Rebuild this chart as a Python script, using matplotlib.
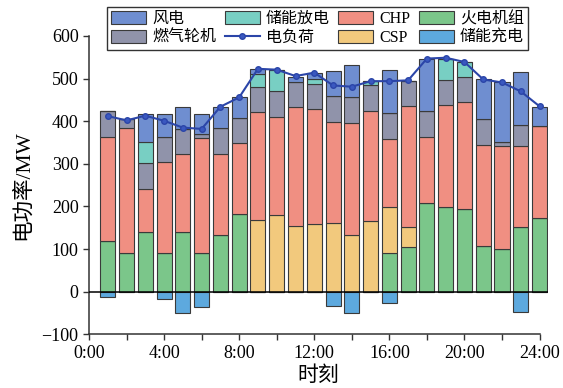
import numpy as np
import matplotlib
matplotlib.use('Agg')
import matplotlib.pyplot as plt

plt.rcParams['font.family'] = ['Liberation Serif', 'Noto Sans CJK SC']
plt.rcParams['font.size'] = 11

hours = np.arange(1, 25)
# stacked output, MW (bottom to top)
thermal = [120, 90, 140, 90, 140, 90, 132, 182, 0, 0, 0, 0,
           0, 0, 0, 90, 106, 207, 199, 193, 108, 101, 151, 174]
csp = [0, 0, 0, 0, 0, 0, 0, 0, 168, 180, 154, 159,
       161, 134, 165, 109, 45, 0, 0, 0, 0, 0, 0, 0]
chp = [242, 293, 101, 214, 183, 271, 191, 166, 253, 230, 279, 269,
       238, 263, 259, 160, 285, 156, 238, 252, 237, 240, 192, 215]
gas = [61, 22, 62, 59, 59, 9, 60, 60, 60, 60, 59, 60,
       60, 61, 60, 60, 59, 60, 60, 59, 60, 11, 49, 0]
discharge = [0, 0, 49, 0, 0, 0, 0, 0, 31, 51, 0, 10,
             0, 0, 11, 0, 0, 0, 48, 36, 0, 0, 0, 0]
wind = [0, 0, 64, 55, 52, 48, 51, 48, 10, 0, 12, 15,
        59, 73, 0, 101, 0, 123, 0, 0, 93, 139, 124, 45]
charge = [-12, 0, 0, -17, -49, -37, 0, 0, 0, 0, 0, 0,
          -34, -49, 0, -27, 0, 0, 0, 0, 0, 0, -47, 0]
load = [412, 402, 413, 401, 385, 382, 434, 456, 523, 521, 506, 514,
        484, 481, 494, 494, 496, 547, 549, 539, 498, 491, 470, 435]

series = [
    ('火电机组', thermal, '#7BC68A'),
    ('CSP', csp, '#F2C97D'),
    ('CHP', chp, '#F08F82'),
    ('燃气轮机', gas, '#9093AA'),
    ('储能放电', discharge, '#78CFC3'),
    ('风电', wind, '#6F8ED0'),
]

fig = plt.figure(figsize=(5.63, 3.88), dpi=100)
ax = fig.add_axes([89 / 563, 1 - 334.3 / 388, 459 / 563, 298.3 / 388])

handles = {}
bottom = np.zeros(24)
for name, vals, col in series:
    vals = np.array(vals, dtype=float)
    b = ax.bar(hours, vals, 0.8, bottom=bottom, color=col,
               edgecolor='#3a3a3a', linewidth=0.8, zorder=2)
    handles[name] = b
    bottom += vals
handles['储能充电'] = ax.bar(hours, charge, 0.8, color='#5DA9DE',
                          edgecolor='#3a3a3a', linewidth=0.8, zorder=2)
handles['电负荷'], = ax.plot(hours, load, color='#2B45A8', lw=1.5,
                          marker='o', ms=4, mfc='#3A58C0', mec='#2B45A8',
                          zorder=4)

ax.axhline(0, color='black', lw=1.1, zorder=3)
ax.set_xlim(0, 24.45)
ax.set_ylim(-100, 600)
ax.set_yticks(np.arange(-100, 601, 100))
ax.set_xticks(np.arange(0, 25, 2))
ax.set_xticklabels([f'{h}:00' if h % 4 == 0 else '' for h in range(0, 25, 2)])
ax.spines['top'].set_visible(False)
ax.spines['right'].set_visible(False)
ax.spines['bottom'].set_bounds(0, 24)
for s in ['left', 'bottom']:
    ax.spines[s].set_linewidth(1.1)
    ax.spines[s].set_color('#333333')
ax.tick_params(direction='out', length=4, width=1, labelsize=13, colors='#333333')
ax.tick_params(labelcolor='black')
ax.set_xlabel('时刻', fontsize=15, labelpad=3)
ax.set_ylabel('电功率/MW', fontsize=15.5, labelpad=6)

order = ['风电', '燃气轮机', '储能放电', '电负荷', 'CHP', 'CSP', '火电机组', '储能充电']
leg = fig.legend([handles[k] for k in order], order, ncol=4,
                 loc='upper left', bbox_to_anchor=(107 / 563, 1 - 7 / 388),
                 fontsize=11.5, frameon=True, fancybox=False, edgecolor='black',
                 handlelength=2.2, handleheight=0.9, columnspacing=0.5,
                 handletextpad=0.4, labelspacing=0.15, borderpad=0.25,
                 borderaxespad=0)
leg.get_frame().set_linewidth(1.0)

fig.savefig('out.png', dpi=100)
